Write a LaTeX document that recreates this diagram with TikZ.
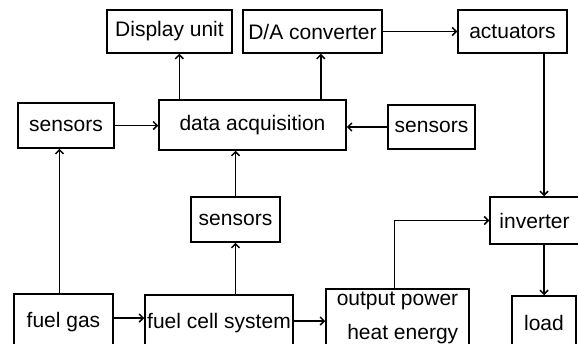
\documentclass[tikz,border=0pt]{standalone}
\usepackage{fontspec}
\setmainfont{Liberation Sans}
\usetikzlibrary{arrows.meta}
\begin{document}
\begin{tikzpicture}[x=1pt,y=-1pt,
        box/.style={draw, line width=1.5pt, inner sep=1pt,
                    font=\fontsize{21}{25}\selectfont},
        arr/.style={line width=1.5pt, -{Straight Barb[length=4pt,width=8pt]}}]
            \useasboundingbox (0,0) rectangle (578,343);
            \clip (0,0) rectangle (578,343);

            % top row
            \node[box, minimum width=125pt, minimum height=43pt] (disp) at (169.5,31.5) {Display unit};
            \node[box, minimum width=139pt, minimum height=43pt] (dac)  at (312.5,31.5) {D/A converter};
            \node[box, minimum width=109pt, minimum height=43pt] (act)  at (512.5,31.5) {actuators};

            % acquisition row
            \node[box, minimum width=96pt,  minimum height=45pt] (sensL) at (66,125.5)  {sensors};
            \node[box, minimum width=187pt, minimum height=50pt] (daq)   at (252.5,125) {data acquisition};
            \node[box, minimum width=87pt,  minimum height=44pt] (sensR) at (431.5,127) {sensors};

            % middle row
            \node[box, minimum width=89pt, minimum height=45pt] (sensM) at (235.5,219.5) {sensors};
            \node[box, minimum width=89pt, minimum height=47pt] (inv)   at (534.5,220.5) {inverter};

            % bottom row (cut by the lower edge)
            \node[box, minimum width=99pt,  minimum height=56pt] (fuel) at (63.5,322) {fuel gas};
            \node[box, minimum width=148pt, minimum height=56pt] (fcs)  at (219,323)  {fuel cell system};
            \node[box, minimum width=143pt, minimum height=58pt, align=right,
                  font=\fontsize{21}{34}\selectfont] (out) at (397.5,318) {output power\\heat energy};
            \node[box, minimum width=64pt,  minimum height=54pt] (load) at (544,323)  {load};

            % connectors
            \draw[arr] ([xshift=21pt]daq.north west) -- ([xshift=21pt]daq.north west |- disp.south);
            \draw[arr] ([xshift=-26pt]daq.north east) -- ([xshift=-26pt]daq.north east |- dac.south);
            \draw[arr] (dac.east) -- (act.west);
            \draw[arr] (sensL.east) -- (sensL.east -| daq.west);
            \draw[arr] (sensR.west) -- (sensR.west -| daq.east);
            \draw[arr] (sensM.north) -- (sensM.north |- daq.south);
            \draw[arr] (fcs.north -| sensM.south) -- (sensM.south);
            \draw[arr] ([xshift=-4pt]fuel.north) -- ([xshift=-4pt]fuel.north |- sensL.south);
            \draw[arr] ([yshift=4pt]fuel.east) -- ([yshift=4pt]fuel.east -| fcs.west);
            \draw[arr] ([yshift=2pt]fcs.east) -- ([yshift=2pt]fcs.east -| out.west);
            \draw[arr] ([xshift=-3pt]out.north) |- (inv.west);
            \draw[arr] (act.south -| load.north) -- (inv.north -| load.north);
            \draw[arr] (inv.south -| load.north) -- (load.north);
        \end{tikzpicture}
\end{document}
